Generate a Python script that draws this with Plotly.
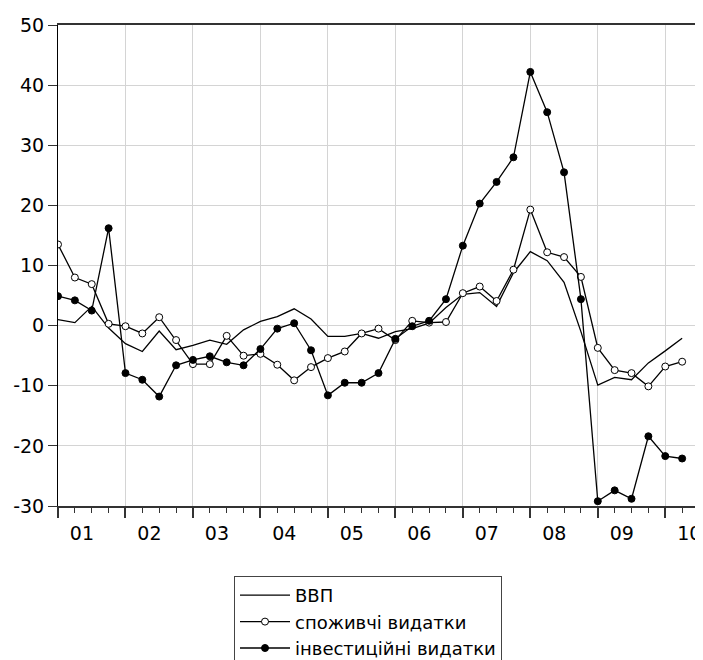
import plotly.graph_objects as go

quarters = [f"{y}Q{q}" for y in range(2001, 2011) for q in range(1, 5)][:38]

gdp = [1.0, 0.5, 3.2, -0.4, -3.0, -4.3, -0.9, -4.0, -3.3, -2.4, -3.1, -0.7, 0.7, 1.5,
       2.8, 1.1, -1.8, -1.8, -1.3, -2.1, -1.0, -0.5, 0.4, 3.0, 5.2, 5.5, 3.2, 8.8,
       12.3, 10.8, 7.2, -1.0, -9.9, -8.6, -9.0, -6.2, -4.2, -2.1]
consumption = [13.5, 8.0, 6.9, 0.3, -0.1, -1.3, 1.4, -2.4, -6.4, -6.4, -1.7, -5.0, -4.7,
               -6.5, -9.1, -6.9, -5.4, -4.3, -1.3, -0.5, -2.4, 0.8, 0.5, 0.6, 5.4, 6.5,
               4.1, 9.3, 19.3, 12.2, 11.4, 8.1, -3.7, -7.4, -7.9, -10.1, -6.8, -6.0]
investment = [4.9, 4.2, 2.5, 16.2, -7.9, -9.0, -11.8, -6.6, -5.7, -5.1, -6.1, -6.6, -3.9,
              -0.5, 0.4, -4.1, -11.6, -9.5, -9.5, -7.9, -2.2, -0.1, 0.8, 4.4, 13.3, 20.3,
              23.9, 28.0, 42.2, 35.5, 25.5, 4.4, -29.2, -27.4, -28.8, -18.4, -21.7, -22.1]

year_labels = ["01", "02", "03", "04", "05", "06", "07", "08", "09", "10"]
years = list(range(2001, 2011))
y_ticks = [-30, -20, -10, 0, 10, 20, 30, 40, 50]
y_tick_labels = ["-30", "-20", "-10", "0", "10", "20", "30", "40", "50"]

x = [int(s[:4]) + (int(s[-1]) - 1) / 4 for s in quarters]

FONT = "DejaVu Sans, Liberation Sans, Arial, sans-serif"
FS = 19

# page body has an 8px margin, so the figure is shifted by 8px right and down
W, H = 695, 652
ML, MT, MR = 50, 17, 4
PB = 498  # plot bottom in figure px
MB = H - PB
plot_w = W - ML - MR
plot_h = PB - MT

fig = go.Figure()
fig.add_trace(go.Scatter(x=x, y=gdp, mode="lines", name="ВВП",
                         line=dict(color="black", width=1.3)))
fig.add_trace(go.Scatter(x=x, y=consumption, mode="lines+markers", name="споживчі видатки",
                         line=dict(color="black", width=1.3),
                         marker=dict(symbol="circle", size=7, color="white",
                                     line=dict(color="black", width=1))))
fig.add_trace(go.Scatter(x=x, y=investment, mode="lines+markers", name="інвестиційні видатки",
                         line=dict(color="black", width=1.3),
                         marker=dict(symbol="circle", size=7, color="black",
                                     line=dict(color="black", width=1))))
# invisible trace to carry the label axis
fig.add_trace(go.Scatter(x=[2001, 2010.5], y=[None, None], xaxis="x2", showlegend=False,
                         hoverinfo="skip"))

fig.update_layout(
    width=W, height=H,
    margin=dict(l=ML, r=MR, t=MT, b=MB, autoexpand=False),
    paper_bgcolor="white", plot_bgcolor="white",
    font=dict(family=FONT, size=FS, color="black"),
    showlegend=True,
    legend=dict(x=(234 - 8 - ML) / plot_w, y=-(568 - PB) / plot_h, xanchor="left", yanchor="top",
                bgcolor="white", bordercolor="#444", borderwidth=1,
                font=dict(family=FONT, size=18, color="black"),
                tracegroupgap=0, itemwidth=50),
    xaxis=dict(range=[2001, 2010.5], tickmode="linear", tick0=2001, dtick=1,
               showticklabels=False, ticks="outside", ticklen=10, tickwidth=1.5,
               tickcolor="#333", automargin=False,
               minor=dict(dtick=0.25, tick0=2001, ticks="outside", ticklen=5,
                          tickcolor="#333", tickwidth=1, showgrid=False),
               showgrid=True, gridcolor="#d4d4d4", gridwidth=1,
               showline=True, linecolor="#333", linewidth=1.5, mirror=True,
               zeroline=False),
    xaxis2=dict(range=[2001, 2010.5], overlaying="x", side="bottom", automargin=False,
                tickmode="array", tickvals=[yv + 0.355 for yv in years], ticktext=year_labels,
                ticks="outside", ticklen=10, tickcolor="rgba(0,0,0,0)",
                showgrid=False, showline=False, zeroline=False,
                tickfont=dict(family=FONT, size=FS, color="black")),
    yaxis=dict(range=[-30, 50], tickmode="array", tickvals=y_ticks, ticktext=y_tick_labels,
               automargin=False,
               ticks="outside", ticklen=9, tickcolor="#333", tickwidth=1,
               showgrid=True, gridcolor="#d4d4d4", gridwidth=1,
               zeroline=True, zerolinecolor="#d4d4d4", zerolinewidth=1,
               showline=True, linecolor="black", linewidth=1, mirror=True,
               tickfont=dict(family=FONT, size=FS, color="black")),
)

fig.write_html("out.html")
